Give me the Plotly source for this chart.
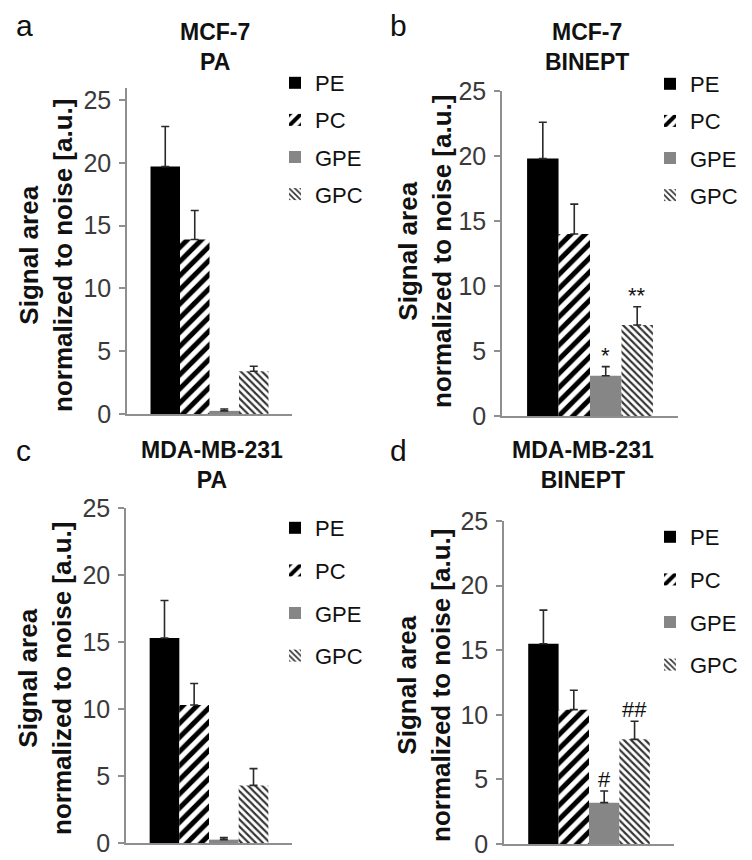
import plotly.graph_objects as go

# ---------------- data ----------------
categories = ["PE", "PC", "GPE", "GPC"]

a_vals = [19.7, 13.9, 0.25, 3.4]
a_err = [3.2, 2.3, 0.15, 0.4]

b_vals = [19.8, 14.0, 3.1, 7.0]
b_err = [2.8, 2.3, 0.7, 1.4]

c_vals = [15.3, 10.3, 0.25, 4.3]
c_err = [2.8, 1.6, 0.15, 1.25]

d_vals = [15.5, 10.4, 3.2, 8.1]
d_err = [2.6, 1.5, 0.9, 1.4]

b_marks = ["", "", "*", "**"]
d_marks = ["", "", "#", "##"]

panel_letters = ["a", "b", "c", "d"]
panel_titles = [("MCF-7", "PA"), ("MCF-7", "BINEPT"),
                ("MDA-MB-231", "PA"), ("MDA-MB-231", "BINEPT")]
y_ticks = [0, 5, 10, 15, 20, 25]
y_title = ("Signal area", "normalized to noise [a.u.]")

# ---------------- styles ----------------
W, H = 752, 860
FONT = "Liberation Sans, Arial, sans-serif"
AXIS_COL = "#8f8f8f"
bar_styles = {
    "PE": dict(color="#000000"),
    "PC": dict(color="#ffffff", pattern=dict(shape="/", fgcolor="#000000", bgcolor="#ffffff",
                                             size=10, solidity=0.5)),
    "GPE": dict(color="#868686"),
    "GPC": dict(color="#ffffff", pattern=dict(shape="\\", fgcolor="#333333", bgcolor="#ffffff",
                                              size=5, solidity=0.42)),
}
BARGAP = 0.285

# panel geometry in pixels: (x_left, x_right, y_top, y_bottom), y range max
panels = [
    dict(x0=127, x1=292, yt=88, yb=414, ymax=25.96,
         letter=(14, 26), title=(215, 47), ytitle=(46, 256), legend=(275, 62), gap=5.5),
    dict(x0=502, x1=678, yt=91, yb=416, ymax=25.0,
         letter=(388, 26), title=(587, 47), ytitle=(425, 252), legend=(650, 63), gap=5.5),
    dict(x0=126, x1=292, yt=508, yb=843, ymax=25.0,
         letter=(14, 450), title=(212, 465), ytitle=(45, 679), legend=(275, 507), gap=11),
    dict(x0=504, x1=674, yt=521, yb=844, ymax=25.0,
         letter=(388, 450), title=(583, 465), ytitle=(424, 686), legend=(650, 516), gap=11),
]
all_vals = [a_vals, b_vals, c_vals, d_vals]
all_errs = [a_err, b_err, c_err, d_err]
all_marks = [None, b_marks, None, d_marks]

fig = go.Figure()
annotations = []
layout_updates = {}

for p, geo in enumerate(panels):
    n = p + 1
    xs = "" if n == 1 else str(n)
    vals, errs = all_vals[p], all_errs[p]
    for i, cat in enumerate(categories):
        fig.add_trace(go.Bar(
            x=[0], y=[vals[i]], name=cat,
            marker=dict(line=dict(width=0), **bar_styles[cat]),
            error_y=dict(type="data", symmetric=False, array=[errs[i]], arrayminus=[0],
                         color="#2a2a2a", thickness=1.6, width=4),
            xaxis="x" + xs, yaxis="y" + xs,
            legend="legend" + xs, legendgroup=f"{n}-{cat}",
            showlegend=True,
        ))
    # axes
    layout_updates["xaxis" + xs] = dict(
        domain=[geo["x0"] / W, geo["x1"] / W], anchor="y" + xs, automargin=False,
        range=[-0.5, 0.5], showticklabels=False, ticks="", showgrid=False, zeroline=False,
        showline=True, linecolor=AXIS_COL, linewidth=1.5, fixedrange=True)
    layout_updates["yaxis" + xs] = dict(
        domain=[1 - geo["yb"] / H, 1 - geo["yt"] / H], anchor="x" + xs, automargin=False,
        range=[0, geo["ymax"]], tickvals=y_ticks, showgrid=False, zeroline=False,
        showline=True, linecolor=AXIS_COL, linewidth=1.5,
        ticks="outside", ticklen=6, tickcolor=AXIS_COL, tickwidth=1.5,
        tickfont=dict(family=FONT, size=25, color="#3a3a3a"), ticklabelstandoff=3,
        ticklabeloverflow="allow", fixedrange=True)
    # legend
    layout_updates["legend" + xs] = dict(
        x=geo["legend"][0] / W, y=1 - geo["legend"][1] / H, xanchor="left", yanchor="top",
        xref="paper", yref="paper",
        font=dict(family=FONT, size=22, color="#111111"), bgcolor="rgba(0,0,0,0)",
        tracegroupgap=geo["gap"], traceorder="grouped")
    # panel letter
    annotations.append(dict(text=panel_letters[p], x=geo["letter"][0] / W, y=1 - geo["letter"][1] / H,
                            xref="paper", yref="paper", xanchor="left", yanchor="middle",
                            showarrow=False, font=dict(family=FONT, size=30, color="#111111")))
    # title
    t1, t2 = panel_titles[p]
    annotations.append(dict(text=f"<b>{t1}</b><br><b>{t2}</b>",
                            x=geo["title"][0] / W, y=1 - geo["title"][1] / H,
                            xref="paper", yref="paper", xanchor="center", yanchor="middle",
                            showarrow=False, align="center",
                            font=dict(family=FONT, size=23, color="#111111")))
    # y-axis title
    annotations.append(dict(text=f"<b>{y_title[0]}</b><br><b>{y_title[1]}</b>",
                            x=geo["ytitle"][0] / W, y=1 - geo["ytitle"][1] / H,
                            xref="paper", yref="paper", xanchor="center", yanchor="middle",
                            textangle=-90, showarrow=False, align="center",
                            font=dict(family=FONT, size=26, color="#111111")))
    # significance marks
    marks = all_marks[p]
    if marks:
        w = 1 - BARGAP
        for i, m in enumerate(marks):
            if not m:
                continue
            xc = -w / 2 + w / 4 * (i + 0.5)
            annotations.append(dict(text=m, x=xc, y=vals[i] + errs[i],
                                    xref="x" + xs, yref="y" + xs,
                                    xanchor="center", yanchor="bottom", yshift=-3,
                                    showarrow=False,
                                    font=dict(family=FONT, size=22, color="#111111")))

fig.update_layout(
    template="none",
    width=W, height=H, margin=dict(l=0, r=0, t=0, b=0, pad=0, autoexpand=False),
    paper_bgcolor="white", plot_bgcolor="white",
    barmode="group", bargap=BARGAP, bargroupgap=0,
    annotations=annotations, showlegend=True,
    **layout_updates,
)

fig.write_html("out.html")
